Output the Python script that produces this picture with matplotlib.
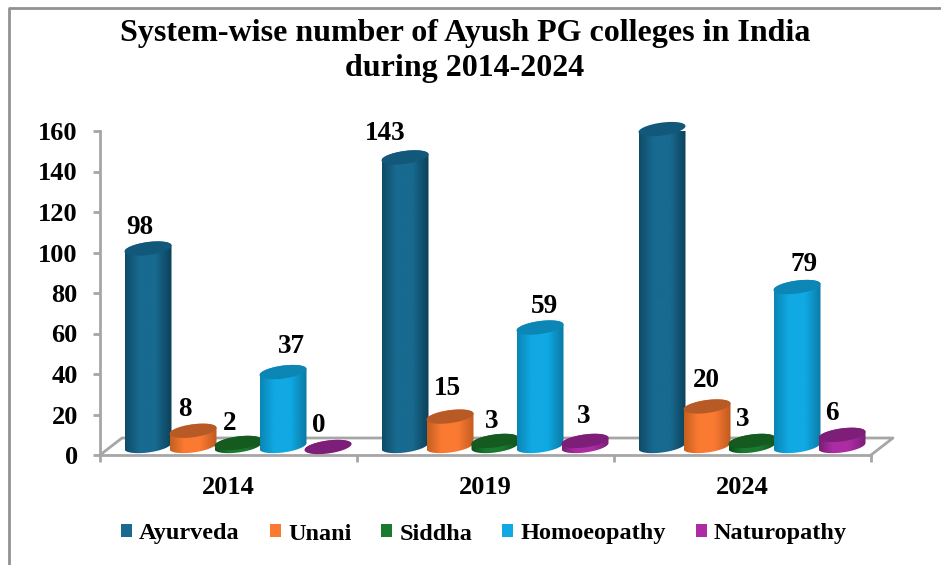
import numpy as np
import matplotlib
matplotlib.use("Agg")
import matplotlib.pyplot as plt
from matplotlib.colors import LinearSegmentedColormap
from matplotlib.patches import Patch, Polygon

years = ["2014", "2019", "2024"]
systems = ["Ayurveda", "Unani", "Siddha", "Homoeopathy", "Naturopathy"]
ayurveda = [98, 143, 157]
unani = [8, 15, 20]
siddha = [2, 3, 3]
homoeopathy = [37, 59, 79]
naturopathy = [0, 3, 6]
series = [ayurveda, unani, siddha, homoeopathy, naturopathy]
yticks = list(range(0, 161, 20))

side_cols = ["#0f4c68", "#186a90", "#0c4058"], ["#c4601f", "#fb7a32", "#c05a20"], \
    ["#0f4f1c", "#1a7a30", "#0f4f1c"], ["#0a86b5", "#10a9e3", "#0a7aa5"], ["#7a1f75", "#ad2ca4", "#7a1f75"]
top_cols = ["#11587a", "#b85a25", "#155a1f", "#0c86b5", "#7d1f78"]

# label offsets from the bar top, in pixels
label_dx = [[-8, -20, -8], [-8, -3, -1], [-8, -3, -9], [8, 4, 7], [-9, -1, -10]]
label_dy = [[20, 23, 21], [20, 27, 25], [18, 18, 20], [25, 20, 22], [20, 23, 20]]

plt.rcParams["font.family"] = ["Liberation Serif", "DejaVu Serif"]
plt.rcParams["font.weight"] = "bold"

W, H = 941, 565
fig = plt.figure(figsize=(W / 100, H / 100), dpi=100)
left, right, top, bottom = 100, 871, 131, 455
ax = fig.add_axes([left / W, 1 - bottom / H, (right - left) / W, (bottom - top) / H])
ax.set_xlim(0, 3)
ax.set_ylim(0, 160)
ax.patch.set_visible(False)

px_x = 3 / (right - left)
px_y = 160 / (bottom - top)
grey = "#a6a6a6"

# frame of the picture
fig.add_artist(plt.Line2D([9 / W, 9 / W, 1], [0, 1 - 8 / H, 1 - 8 / H], color="#929292", lw=2))

# floor
dx_floor, dy_floor = 22 * px_x, 17 * px_y
ax.plot([0, dx_floor, 3 + dx_floor, 3], [0, dy_floor, dy_floor, 0], color=grey, lw=2,
        clip_on=False, zorder=1)

for s in ["top", "right"]:
    ax.spines[s].set_visible(False)
for s in ["left", "bottom"]:
    ax.spines[s].set_color(grey)
    ax.spines[s].set_linewidth(2)
ax.set_yticks(yticks)
ax.set_xticks([0, 1, 2, 3])
ax.set_xticklabels([])
ax.tick_params(axis="both", color=grey, width=2, length=5, direction="out")
ax.tick_params(axis="y", labelsize=19, pad=11, labelcolor="black")
for i, y in enumerate(years):
    ax.text(i + 0.5, -33 * px_y, y, ha="center", va="center", fontsize=19)


def ellipse(cx, cy, a, b, tilt, t0=0, t1=2 * np.pi):
    t = np.linspace(t0, t1, 80)
    return np.column_stack([cx + a * np.cos(t) * px_x,
                            cy + (b * np.sin(t) + tilt * np.cos(t)) * px_y])


bar_w = 23.5
base = 9 * px_y
first = 48 * px_x
step = 45 * px_x
ell_b, ell_tilt = 6.5, 3

for j, vals in enumerate(series):
    cmap = LinearSegmentedColormap.from_list("c%d" % j, [(0, side_cols[j][0]), (0.3, side_cols[j][1]),
                                                         (0.65, side_cols[j][1]), (1, side_cols[j][2])])
    for i, v in enumerate(vals):
        cx = i + first + j * step
        y0 = base
        y1 = base + v - 1 * px_y
        lower = ellipse(cx, y0, bar_w, ell_b, ell_tilt, np.pi, 2 * np.pi)
        upper = ellipse(cx, y1, bar_w, ell_b, ell_tilt, 0, np.pi)
        poly = Polygon(np.vstack([lower, upper]), closed=True, transform=ax.transData,
                       facecolor="none", edgecolor="none", zorder=3 + j)
        ax.add_patch(poly)
        poly.set_clip_on(False)
        im = ax.imshow(np.linspace(0, 1, 64).reshape(1, -1), cmap=cmap, aspect="auto",
                       extent=(cx - bar_w * px_x, cx + bar_w * px_x, y0 - 10 * px_y, y1 + 10 * px_y),
                       zorder=3 + j, clip_on=True)
        im.set_clip_path(poly)
        ax.add_patch(Polygon(ellipse(cx, y1, bar_w, ell_b, ell_tilt), closed=True, facecolor=top_cols[j],
                             edgecolor="none", zorder=3 + j, clip_on=False))
        ax.annotate(str(v), (cx, y1), xytext=(label_dx[j][i] * 0.72, (label_dy[j][i] + 1) * 0.72),
                    textcoords="offset points", ha="center", va="center", fontsize=19.5, zorder=10)

ax.set_xlim(0, 3)
ax.set_ylim(0, 160)

fig.text(465 / W, 1 - 51 / H, "System-wise number of Ayush PG colleges in India\nduring 2014-2024",
         ha="center", va="center", fontsize=23, linespacing=1.25)

handles = [Patch(facecolor=side_cols[j][1], edgecolor="none") for j in range(5)]
fig.legend(handles, systems, loc="center", bbox_to_anchor=(484 / W, 1 - 534 / H), ncol=5, frameon=False,
           fontsize=17.5, handlelength=0.46, handleheight=0.46, handletextpad=0.29, columnspacing=1.23)

fig.savefig("out.png", dpi=100)
